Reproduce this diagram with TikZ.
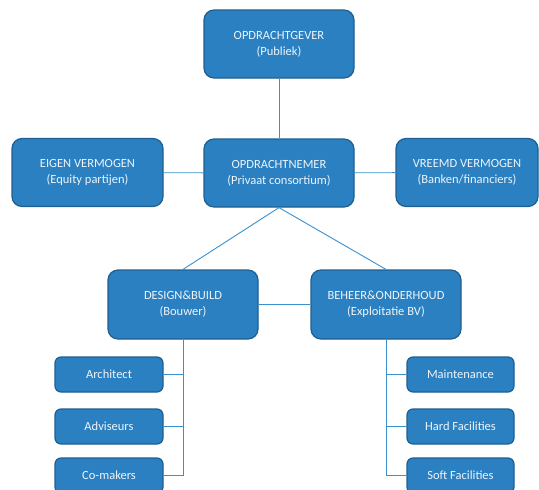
\documentclass[tikz,border=0pt]{standalone}
\usepackage{fontspec}
\setmainfont{Carlito}
\definecolor{boxfill}{HTML}{2A80C1}
\definecolor{boxdraw}{HTML}{1E5F8F}
\definecolor{linkcol}{HTML}{3A8FCD}
\definecolor{boxtext}{HTML}{EEF4FA}
\begin{document}
\begin{tikzpicture}[
    x=1pt, y=-1pt,
    every node/.style={align=center, font=\fontsize{12.5}{16}\selectfont, text=boxtext},
    orgbox/.style={draw=boxdraw, fill=boxfill, line width=1.2pt, rounded corners=10pt,
        minimum width=150pt, minimum height=68pt, inner sep=0pt},
    subbox/.style={draw=boxdraw, fill=boxfill, line width=1.2pt, rounded corners=6pt,
        minimum width=108pt, minimum height=35pt, inner sep=0pt},
    link/.style={draw=linkcol, line width=0.9pt},
    ]
\useasboundingbox (0,0) rectangle (539,490);
\clip (0,0) rectangle (539,490);
\node[orgbox] (gever) at (279,44) {OPDRACHTGEVER\\(Publiek)};
\node[orgbox] (nemer) at (279,173) {OPDRACHTNEMER\\(Privaat consortium)};
\node[orgbox, minimum width=151pt] (eigen) at (87.5,172.5) {EIGEN VERMOGEN\\(Equity partijen)};
\node[orgbox, minimum width=142pt] (vreemd) at (467,172.5) {VREEMD VERMOGEN\\(Banken/financiers)};
\node[orgbox, minimum height=69pt] (design) at (183,304.5) {DESIGN\&BUILD\\(Bouwer)};
\node[orgbox, minimum height=69pt] (beheer) at (386,304.5) {BEHEER\&ONDERHOUD\\(Exploitatie BV)};
\draw[link] (gever) -- (nemer);
\draw[link] (eigen) -- (nemer);
\draw[link] (nemer) -- (vreemd);
\draw[link] (nemer.south) -- (design.north);
\draw[link] (nemer.south) -- (beheer.north);
\draw[link] (design) -- (beheer);
\node[subbox] (architect) at (109,374.5) {Architect};
\node[subbox] (adviseurs) at (109,426.5) {Adviseurs};
\node[subbox] (comakers) at (109,475.5) {Co-makers};
\node[subbox, minimum width=107pt] (maintenance) at (460.5,374.5) {Maintenance};
\node[subbox, minimum width=107pt] (hard) at (460.5,426.5) {Hard Facilities};
\node[subbox, minimum width=107pt] (soft) at (460.5,475.5) {Soft Facilities};
\draw[link] (design.south) |- (architect.east);
\draw[link] (design.south) |- (adviseurs.east);
\draw[link] (design.south) |- (comakers.east);
\draw[link] (beheer.south) |- (maintenance.west);
\draw[link] (beheer.south) |- (hard.west);
\draw[link] (beheer.south) |- (soft.west);
\end{tikzpicture}
\end{document}
